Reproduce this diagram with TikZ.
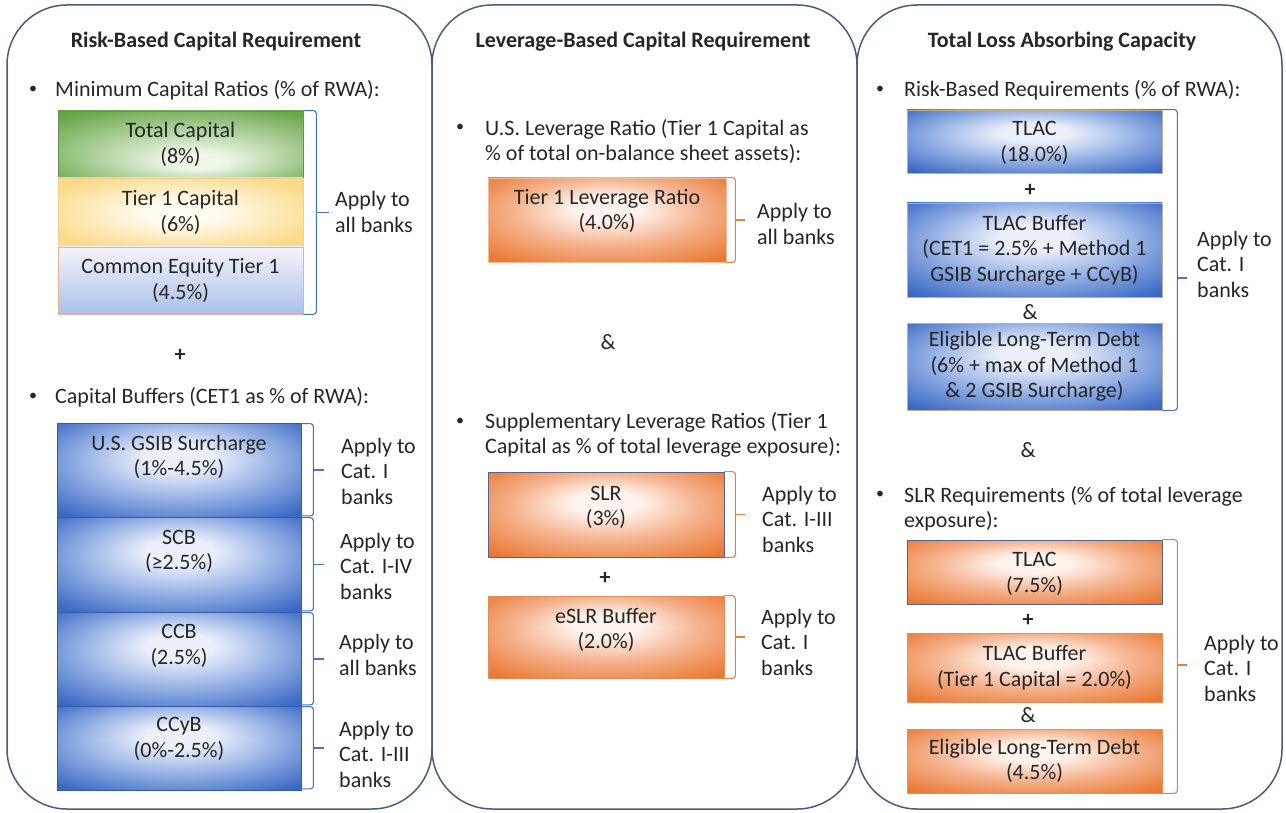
\documentclass[tikz,border=0pt]{standalone}
\usepackage{fontspec}
\setmainfont{Carlito}
\definecolor{txt}{RGB}{38,38,38}
\definecolor{frame}{RGB}{72,92,125}
\definecolor{bout}{RGB}{58,104,196}
\definecolor{bmid}{RGB}{150,178,228}
\definecolor{bin}{RGB}{234,239,250}
\definecolor{oout}{RGB}{234,120,50}
\definecolor{omid}{RGB}{244,178,140}
\definecolor{oin}{RGB}{254,243,236}
\definecolor{gout}{RGB}{100,165,68}
\definecolor{gin}{RGB}{238,246,232}
\definecolor{yout}{RGB}{252,218,135}
\definecolor{yin}{RGB}{255,251,238}
\definecolor{cout}{RGB}{168,192,232}
\definecolor{cin}{RGB}{246,244,250}
\definecolor{bbrk}{RGB}{68,114,196}
\definecolor{obrk}{RGB}{224,130,70}
\definecolor{bdr}{RGB}{50,90,170}
\definecolor{odr}{RGB}{228,140,90}
\definecolor{sdr}{RGB}{80,100,140}
\definecolor{tdr}{RGB}{200,170,140}
\pgfdeclareradialshading{blueshade}{\pgfpoint{0bp}{8bp}}{color(0bp)=(bin); color(7bp)=(bin); color(20bp)=(bmid); color(35bp)=(bout); color(50bp)=(bout)}
\pgfdeclareradialshading{orangeshade}{\pgfpoint{0bp}{8bp}}{color(0bp)=(oin); color(7bp)=(oin); color(20bp)=(omid); color(35bp)=(oout); color(50bp)=(oout)}
\pgfdeclareradialshading{greenshade}{\pgfpoint{4bp}{-14bp}}{color(0bp)=(gin); color(6bp)=(gin); color(36bp)=(gout); color(50bp)=(gout)}
\pgfdeclareradialshading{yellowshade}{\pgfpoint{0bp}{0bp}}{color(0bp)=(yin); color(8bp)=(yin); color(30bp)=(yout); color(50bp)=(yout)}
\tikzset{
  panel/.style={draw=frame, line width=1.5pt, rounded corners=60pt},
  ttl/.style={font=\fontsize{22}{25.5}\selectfont\bfseries},
  bul/.style={font=\fontsize{16}{20}\selectfont},
  itm/.style={anchor=west, align=left, inner sep=0pt},
  lbl/.style={align=center, inner sep=0pt},
  app/.style={anchor=west, align=left, inner sep=0pt},
  sym/.style={font=\fontsize{22}{25.5}\selectfont\bfseries},
  amp/.style={font=\fontsize{22}{25.5}\selectfont},
  bluebox/.style={shade, shading=blueshade, draw=bdr, line width=0.8pt, inner sep=0pt},
  orangebox/.style={shade, shading=orangeshade, draw=odr, line width=0.8pt, inner sep=0pt},
  greenbox/.style={shade, shading=greenshade, draw={rgb,255:red,110;green,140;blue,100}, line width=0.8pt, inner sep=0pt},
  yellowbox/.style={shade, shading=yellowshade, draw={rgb,255:red,240;green,205;blue,150}, line width=0.8pt, inner sep=0pt},
  cetbox/.style={top color=cin, bottom color=cout, draw={rgb,255:red,230;green,175;blue,150}, line width=0.8pt, inner sep=0pt},
  bbr/.style={draw=bbrk, line width=1.1pt, rounded corners=3pt},
  obr/.style={draw=obrk, line width=1.1pt, rounded corners=3pt},
}
\begin{document}
\begin{tikzpicture}[x=1pt, y=-1pt, font=\fontsize{22}{25.5}\selectfont, text=txt]
\useasboundingbox (0,0) rectangle (1286,813);
\fill[white] (0,0) rectangle (1286,813);
% panels
\draw[panel] (7,5) rectangle (432,809);
\draw[panel] (432,5) rectangle (857,809);
\draw[panel] (857,5) rectangle (1282,809);

% ===== left panel =====
\node[ttl] (t1) at (216,42) {Risk-Based Capital Requirement};
\node[bul] (u1) at (33,90) {\textbullet};
\node[itm] (i1) at (55,90) {Minimum Capital Ratios (\% of RWA):};
\node[greenbox, minimum width=245, minimum height=67] (tc) at (180.5,144.5) {};
\node[lbl] (tcl) at (tc.center) {Total Capital\\(8\%)};
\node[yellowbox, minimum width=245, minimum height=69] (tone) at (180.5,212.5) {};
\node[lbl] (tonel) at (tone.center) {Tier 1 Capital\\(6\%)};
\node[cetbox, minimum width=245, minimum height=67] (cet) at (180.5,280.5) {};
\node[lbl] (cetl) at (cet.center) {Common Equity Tier 1\\(4.5\%)};
\draw[bbr] (tc.north east) -- ++(13,0) |- (cet.south east);
\coordinate (k1) at (316,212.5);
\draw[bbr] (k1) -- ++(13,0);
\node[app] (a1) at (335,212) {Apply to\\all banks};
\node[sym] (p1) at (180,355) {+};
\node[bul] (u2) at (33,397) {\textbullet};
\node[itm] (i2) at (55,397) {Capital Buffers (CET1 as \% of RWA):};

\node[bluebox, minimum width=244, minimum height=94] (gs) at (179,470) {};
\node[lbl] (gsl) at ([yshift=13]gs.center) {U.S. GSIB Surcharge\\(1\%-4.5\%)};
\node[bluebox, minimum width=244, minimum height=95] (scb) at (179,564.5) {};
\node[lbl] (scbl) at ([yshift=13]scb.center) {SCB\\(≥2.5\%)};
\node[bluebox, minimum width=244, minimum height=94] (ccb) at (179,659) {};
\node[lbl] (ccbl) at ([yshift=13]ccb.center) {CCB\\(2.5\%)};
\node[bluebox, minimum width=244, minimum height=84] (ccyb) at (179,748) {};
\node[lbl] (ccybl) at ([yshift=9]ccyb.center) {CCyB\\(0\%-2.5\%)};
\foreach \b in {gs,scb,ccb,ccyb}{
  \draw[bbr] ([yshift=-1]\b.north east) -- ++(12,0) |- ([yshift=1.5]\b.south east);
  \draw[bbr] ([xshift=12]\b.east) -- ([xshift=23]\b.east);
}
\node[app] (a2) at (341,471) {Apply to\\Cat. I\\banks};
\node[app] (a3) at (340,566) {Apply to\\Cat. I-IV\\banks};
\node[app] (a4) at (339,655) {Apply to\\all banks};
\node[app] (a5) at (339,754) {Apply to\\Cat. I-III\\banks};

% ===== middle panel =====
\node[ttl] (t2) at (643,42) {Leverage-Based Capital Requirement};
\node[bul] (u3) at (460,128) {\textbullet};
\node[itm] (i3) at (485,141.5) {U.S. Leverage Ratio (Tier 1 Capital as\\\% of total on-balance sheet assets):};
\node[orangebox, draw={rgb,255:red,240;green,190;blue,150}, minimum width=238, minimum height=84] (lr) at (607,220) {};
\node[lbl] (lrl) at ([yshift=9]lr.center) {Tier 1 Leverage Ratio\\(4.0\%)};
\draw[obr] (lr.north east) -- ++(9,0) |- (lr.south east);
\draw[obr] ([xshift=9]lr.east) -- ([xshift=19]lr.east);
\node[app] (a6) at (757,224) {Apply to\\all banks};
\node[amp] (amp1) at (608,342) {\&};
\node[bul] (u4) at (460,422) {\textbullet};
\node[itm] (i4) at (485,435) {Supplementary Leverage Ratios (Tier 1\\Capital as \% of total leverage exposure):};
\node[orangebox, draw=sdr, minimum width=236, minimum height=85] (slr) at (606,514.5) {};
\node[lbl] (slrl) at ([yshift=7]slr.center) {SLR\\(3\%)};
\draw[obr] (slr.north east) -- ++(11,0) |- (slr.south east);
\draw[obr] ([xshift=11]slr.east) -- ([xshift=21]slr.east);
\node[app] (a7) at (762,519) {Apply to\\Cat. I-III\\banks};
\node[sym] (p2) at (605,578) {+};
\node[orangebox, minimum width=236, minimum height=82] (eslr) at (606,637) {};
\node[lbl] (eslrl) at ([yshift=7]eslr.center) {eSLR Buffer\\(2.0\%)};
\draw[obr] (eslr.north east) -- ++(11,0) |- (eslr.south east);
\draw[obr] ([xshift=11]eslr.east) -- ([xshift=21]eslr.east);
\node[app] (a8) at (761,642) {Apply to\\Cat. I\\banks};

% ===== right panel =====
\node[ttl] (t3) at (1062,42) {Total Loss Absorbing Capacity};
\node[bul] (u5) at (880,90) {\textbullet};
\node[itm] (i5) at (904,90) {Risk-Based Requirements (\% of RWA):};
\node[bluebox, draw=tdr, minimum width=255, minimum height=63] (tl1) at (1034.5,141.5) {};
\node[lbl] (tl1l) at ([yshift=-1.5]tl1.center) {TLAC\\(18.0\%)};
\node[sym] (p3) at (1030,190) {+};
\node[bluebox, draw=tdr, minimum width=255, minimum height=94] (tb1) at (1034.5,250) {};
\node[lbl] (tb1l) at (tb1.center) {TLAC Buffer\\(CET1 = 2.5\% + Method 1\\GSIB Surcharge + CCyB)};
\node[amp] (amp2) at (1030,312) {\&};
\node[bluebox, draw=tdr, minimum width=255, minimum height=87] (el1) at (1034.5,366.5) {};
\node[lbl] (el1l) at (el1.center) {Eligible Long-Term Debt\\(6\% + max of Method 1\\\& 2 GSIB Surcharge)};
\draw[bbr] (tl1.north east) -- ++(15,0) |- (el1.south east);
\coordinate (k2) at (1177,278);
\draw[bbr] (k2) -- ++(10,0);
\node[app] (a9) at (1197,264) {Apply to\\Cat. I\\banks};
\node[amp] (amp3) at (1028,450) {\&};
\node[bul] (u6) at (880,495) {\textbullet};
\node[itm] (i6) at (904,508.5) {SLR Requirements (\% of total leverage\\exposure):};
\node[orangebox, draw=sdr, minimum width=255, minimum height=64] (tl2) at (1034.5,572) {};
\node[lbl] (tl2l) at ([yshift=-2]tl2.center) {TLAC\\(7.5\%)};
\node[sym] (p4) at (1028,620) {+};
\node[orangebox, minimum width=255, minimum height=69] (tb2) at (1034.5,667.5) {};
\node[lbl] (tb2l) at (tb2.center) {TLAC Buffer\\(Tier 1 Capital = 2.0\%)};
\node[amp] (amp4) at (1028,715) {\&};
\node[orangebox, minimum width=255, minimum height=64] (el2) at (1034.5,761) {};
\node[lbl] (el2l) at (el2.center) {Eligible Long-Term Debt\\(4.5\%)};
\draw[obr] (tl2.north east) -- ++(15,0) |- (el2.south east);
\coordinate (k3) at (1177,665);
\draw[obr] (k3) -- ++(10,0);
\node[app] (a10) at (1204,668) {Apply to\\Cat. I\\banks};
\end{tikzpicture}
\end{document}
